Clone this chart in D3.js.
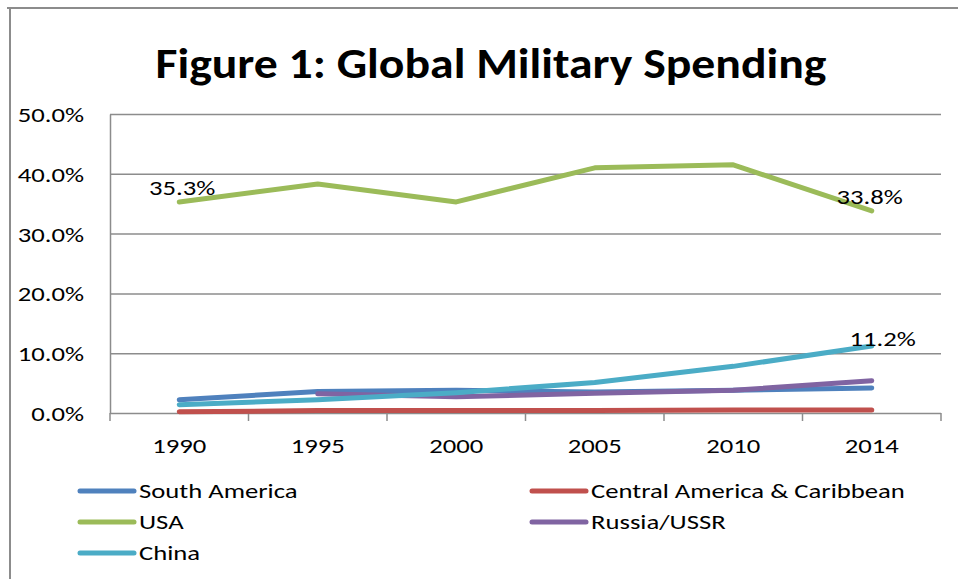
<!DOCTYPE html>
<html>
<head>
<meta charset="utf-8">
<script src="https://cdn.jsdelivr.net/npm/d3@7"></script>
<style>
  html, body { margin: 0; padding: 0; background: #fff; }
  svg { display: block; }
  text { font-family: Carlito, Calibri, Lato, "Open Sans", sans-serif; fill: #000; }
</style>
</head>
<body>
<svg id="chart" width="958" height="579"></svg>
<script>
// ---- data ----
const years = ["1990", "1995", "2000", "2005", "2010", "2014"];
const seriesNames = ["South America", "Central America & Caribbean", "USA", "Russia/USSR", "China"];
const southAmerica = [2.2, 3.6, 3.8, 3.5, 3.8, 4.2];
const centralAmerica = [0.2, 0.4, 0.4, 0.4, 0.5, 0.5];
const usa = [35.3, 38.3, 35.3, 41.0, 41.5, 33.8];
const russia = [null, 3.2, 2.7, 3.3, 3.8, 5.4];
const china = [1.4, 2.2, 3.4, 5.1, 7.8, 11.2];
const yTicks = [0, 10, 20, 30, 40, 50];
const title = "Figure 1: Global Military Spending";

const colors = ["#4F81BD", "#C0504D", "#9BBB59", "#8064A2", "#4BACC6"];
const seriesValues = [southAmerica, centralAmerica, usa, russia, china];

const SX = 1.27;       // horizontal stretch of body text (reference is wide-set)
const TITLE_SX = 1.11;

const svg = d3.select("#chart");

// helper: place a text with horizontal stretch around its anchor point
function placeText(parent, x, y, str, opts) {
  const sx = opts.sx || SX;
  const t = parent.append("text")
    .attr("transform", `translate(${x},${y}) scale(${sx},1)`)
    .attr("text-anchor", opts.anchor || "start")
    .style("font-size", (opts.size || 21) + "px")
    .text(str);
  if (opts.baseline) t.attr("dominant-baseline", opts.baseline);
  if (opts.weight) t.style("font-weight", opts.weight);
  return t;
}

// outer chart border (clipped at right/bottom like the reference)
svg.append("line").attr("x1", 7).attr("x2", 958).attr("y1", 8).attr("y2", 8)
  .attr("stroke", "#8c8c8c").attr("stroke-width", 2);
svg.append("line").attr("x1", 10).attr("x2", 10).attr("y1", 8).attr("y2", 579)
  .attr("stroke", "#8c8c8c").attr("stroke-width", 2);

// title
placeText(svg, 491, 78, title, { anchor: "middle", size: 43, weight: "bold", sx: TITLE_SX });

const plot = { left: 110, right: 941, top: 114, bottom: 413 };

const x = d3.scalePoint().domain(years).range([plot.left, plot.right]).padding(0.5);
const y = d3.scaleLinear().domain([0, 50]).range([plot.bottom, plot.top]);
const step = x.step();

// gridlines
svg.append("g").selectAll("line").data(yTicks.filter(d => d > 0)).join("line")
  .attr("x1", plot.left).attr("x2", plot.right)
  .attr("y1", d => y(d) + 0.5).attr("y2", d => y(d) + 0.5)
  .attr("stroke", "#8c8c8c").attr("stroke-width", 1.5);

// y axis
const yAxis = d3.axisLeft(y).tickValues(yTicks).tickSize(0).tickPadding(26)
  .tickFormat(d => d.toFixed(1) + "%");
const gy = svg.append("g").attr("transform", `translate(${plot.left},0)`).call(yAxis);
gy.select(".domain").attr("stroke", "#8c8c8c").attr("stroke-width", 1.5);
gy.selectAll(".tick text")
  .attr("x", null).attr("dy", null)
  .attr("transform", `translate(-26,0) scale(${SX},1)`)
  .attr("dominant-baseline", "central")
  .attr("fill", "#000")
  .style("font-size", "21px")
  .style("font-family", "Carlito, Calibri, Lato, sans-serif");

// x axis
const gx = svg.append("g").attr("transform", `translate(0,${plot.bottom})`);
gx.append("line").attr("x1", plot.left).attr("x2", plot.right).attr("y1", 0.5).attr("y2", 0.5)
  .attr("stroke", "#8c8c8c").attr("stroke-width", 1.5);
const tickPositions = years.map(d => x(d) - step / 2).concat([x(years[years.length - 1]) + step / 2]);
gx.selectAll("line.tk").data(tickPositions).join("line").attr("class", "tk")
  .attr("x1", d => d).attr("x2", d => d).attr("y1", 0).attr("y2", 8)
  .attr("stroke", "#8c8c8c").attr("stroke-width", 1.5);
years.forEach(yr => placeText(gx, x(yr), 33, yr, { anchor: "middle", baseline: "central" }));

// lines
const line = d3.line()
  .defined(d => d.v !== null)
  .x(d => x(d.year)).y(d => y(d.v));
seriesValues.forEach((vals, i) => {
  const pts = years.map((yr, j) => ({ year: yr, v: vals[j] }));
  svg.append("path").datum(pts)
    .attr("fill", "none").attr("stroke", colors[i]).attr("stroke-width", 5)
    .attr("stroke-linecap", "round").attr("stroke-linejoin", "round")
    .attr("d", line);
});

// data labels
const labels = [
  { s: 2, i: 0, dx: 3, dy: -7 },
  { s: 2, i: 5, dx: -2, dy: -7 },
  { s: 4, i: 5, dx: 11, dy: 0 }
];
const lblG = svg.append("g");
labels.forEach(d => {
  const v = seriesValues[d.s][d.i];
  placeText(lblG, x(years[d.i]) + d.dx, y(v) + d.dy, v.toFixed(1) + "%", { anchor: "middle" });
});

// legend
const legendCols = [80, 532];
const legendRows = [491, 522, 553];
const lg = svg.append("g");
seriesNames.forEach((name, i) => {
  const cx = legendCols[i % 2], cy = legendRows[Math.floor(i / 2)];
  lg.append("line").attr("x1", cx).attr("x2", cx + 54).attr("y1", cy).attr("y2", cy)
    .attr("stroke", colors[i]).attr("stroke-width", 5).attr("stroke-linecap", "round");
  placeText(lg, cx + 59, cy, name, { baseline: "central" });
});
</script>
</body>
</html>
